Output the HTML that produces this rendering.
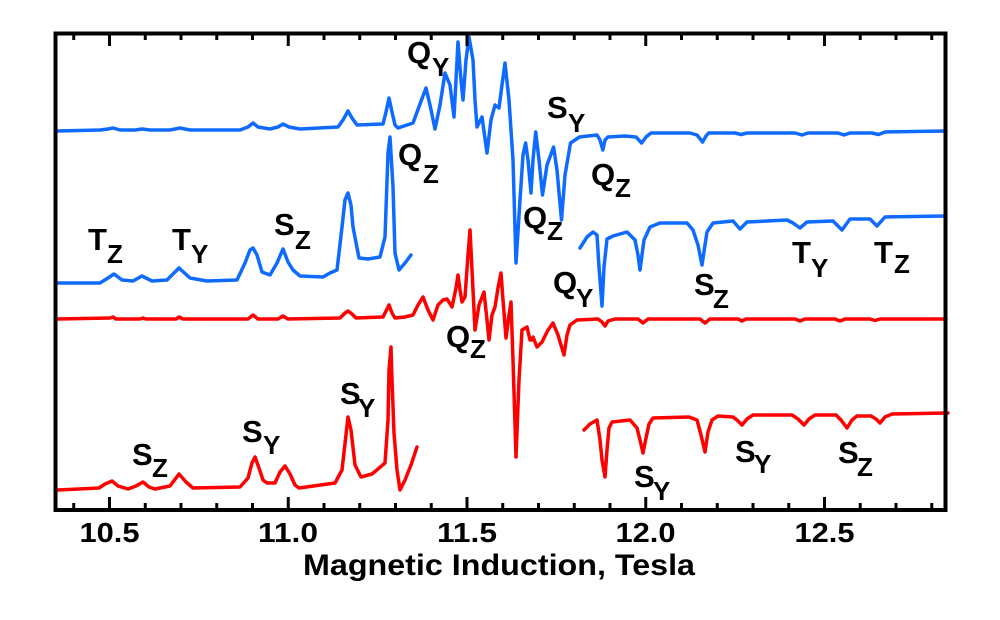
<!DOCTYPE html>
<html><head><meta charset="utf-8"><style>
html,body{margin:0;padding:0;background:#fff;}
svg{display:block;}
text{font-family:"Liberation Sans",Arial,sans-serif;font-weight:bold;fill:#000;}
.b{fill:none;stroke:#0f6bff;stroke-width:3.5;stroke-linejoin:round;stroke-linecap:round;}
.r{fill:none;stroke:#ff0000;stroke-width:3.5;stroke-linejoin:round;stroke-linecap:round;}
.l{font-size:31px;}
.s{font-size:26px;}
</style></head><body>
<svg width="1000" height="620" viewBox="0 0 1000 620" xmlns="http://www.w3.org/2000/svg">
<rect x="0" y="0" width="1000" height="620" fill="#fff"/>

<polyline class="b" points="57,131 100,130 108,129 113,128 120,130 135,130 142,129 150,130 170,130 180,128 190,130 240,130 248,127 253,123 258,127 270,129 278,127 283,124 289,127 300,129 338,127 343,120 348,111 352,118 357,125 383,124 386,112 389,98 392,112 395,125 398,128 413,123 420,104 426,88 430,105 435,129 440,105 445,73 450,85 454,117 456,80 458,42 461,80 463,100 466,60 469,37 473,60 475,100 477,127 482,117 487,153 491,120 495,105 499,108 502,85 505,63 509,100 513,160 516,263 520,200 523,155 525.6,143 528,160 531,193 533,160 535.7,132 539,160 542.5,195 547,165 553.6,147 557,170 561.5,220 565,175 570.5,143 579.5,137 597,135 600,140 602.8,150 605,140 608,137 625,136 636,137 641.6,143 646,137 651,133 690,133 697,135 702.6,142 706,136 708.7,133 735,133 741,134.5 747,133 795,133 802,135 808,133 838,133 844,135 850,133 872,133 878.5,134.5 885,132 946,131"/>

<polyline class="b" points="57,283 100,283 108,278 114,274 122,280 133,281 142,276 152,281 167,280 179,268 190,278 207,281 237,280 245,263 250,250 253,248 257,255 262,272 270,275 277,263 283,249 288,262 293,270 300,276 323,277 330,273 337,270 342,227 345,200 348,193 351,205 353,227 359,258 368,259 380,257 385,237 388,153 390,137 393,187 395,253 399,270 405,263 411,255"/>

<polyline class="b" points="580,248 587,237 593,232 597,235 599,267 602,306 604,267 607,239 613,236 627,232 635,240 638,255 640,270 642,255 644,240 650,227 660,223 687,223 693,230 698,245 702,265 705,245 707,232 713,223 733,221 740,229 747,222 787,220 793,223 800,228 807,222 833,221 842,230 850,219 870,219 877,226 885,217 946,216"/>

<polyline class="r" points="57,319 110,318 113,317 116,319 140,319 143,318 146,319 176,319 179,317 183,319 248,319 253,315 258,319 278,319 283,316 288,319 340,318 345,313 348,311 352,314 356,318 383,317 386,311 389,305 392,313 395,318 405,317 413,315 418,305 423,297 428,310 433,320 438,305 443,300 447,299 452,307 456,288 458,275 460,290 462,302 465,297 468,255 470,230 472,270 475,330 479,305 484,292 487,320 489,340 492,315 495,307 498,288 501,273 503,300 506,338 509,315 511,302 513,360 516,457 519,380 522,330 527,327 530,340 532,340 533,337 537,347 542,342 548,330 553,323 558,335 564,355 567,335 570,325 577,320 598,319 602,322 605,326 608,321 615,319 638,319 643,323 648,319 700,319 705,323 710,319 738,319 742,321 746,319 795,319 800,321 805,319 835,319 840,321 845,319 870,319 875,320.5 880,319 946,319"/>

<polyline class="r" points="58,490 99,488 105,484 112,481 118,486 128,489 136,486 143,482 149,487 155,489 170,486 179,474 186,482 193,488 240,487 248,478 252,463 255,457 259,468 263,480 267,483 275,483 280,472 285,466 290,474 295,485 299,488 335,483 342,470 346,435 348,417 351,430 355,465 361,477 372,474 385,463 388,420 389,370 391,347 392,380 394,433 397,470 400,490 405,480 411,465 417,447"/>

<polyline class="r" points="584,430 590,424 597,420 600,440 602,460 605,477 607,450 609,428 612,422 630,420 637,428 640,440 643,453 646,438 649,424 653,418 689,417 697,420 701,435 705,452 708,432 712,420 718,416 733,417 737,420 742,425 747,419 753,415 792,415 798,419 804,425 809,419 815,415 836,415 841,420 847,428 852,420 857,416 871,416 876,419 880,423 885,417 892,414 948,413"/>

<rect x="55.5" y="33.5" width="890" height="476.5" fill="none" stroke="#000" stroke-width="4"/>
<g stroke="#000" stroke-width="3">
<line x1="73.75" y1="33" x2="73.75" y2="40"/><line x1="73.75" y1="510" x2="73.75" y2="503"/>
<line x1="109.5" y1="33" x2="109.5" y2="46"/><line x1="109.5" y1="510" x2="109.5" y2="497"/>
<line x1="145.25" y1="33" x2="145.25" y2="40"/><line x1="145.25" y1="510" x2="145.25" y2="503"/>
<line x1="181" y1="33" x2="181" y2="40"/><line x1="181" y1="510" x2="181" y2="503"/>
<line x1="216.75" y1="33" x2="216.75" y2="40"/><line x1="216.75" y1="510" x2="216.75" y2="503"/>
<line x1="252.5" y1="33" x2="252.5" y2="40"/><line x1="252.5" y1="510" x2="252.5" y2="503"/>
<line x1="288.25" y1="33" x2="288.25" y2="46"/><line x1="288.25" y1="510" x2="288.25" y2="497"/>
<line x1="324" y1="33" x2="324" y2="40"/><line x1="324" y1="510" x2="324" y2="503"/>
<line x1="359.75" y1="33" x2="359.75" y2="40"/><line x1="359.75" y1="510" x2="359.75" y2="503"/>
<line x1="395.5" y1="33" x2="395.5" y2="40"/><line x1="395.5" y1="510" x2="395.5" y2="503"/>
<line x1="431.25" y1="33" x2="431.25" y2="40"/><line x1="431.25" y1="510" x2="431.25" y2="503"/>
<line x1="467" y1="33" x2="467" y2="46"/><line x1="467" y1="510" x2="467" y2="497"/>
<line x1="502.75" y1="33" x2="502.75" y2="40"/><line x1="502.75" y1="510" x2="502.75" y2="503"/>
<line x1="538.5" y1="33" x2="538.5" y2="40"/><line x1="538.5" y1="510" x2="538.5" y2="503"/>
<line x1="574.25" y1="33" x2="574.25" y2="40"/><line x1="574.25" y1="510" x2="574.25" y2="503"/>
<line x1="610" y1="33" x2="610" y2="40"/><line x1="610" y1="510" x2="610" y2="503"/>
<line x1="645.75" y1="33" x2="645.75" y2="46"/><line x1="645.75" y1="510" x2="645.75" y2="497"/>
<line x1="681.5" y1="33" x2="681.5" y2="40"/><line x1="681.5" y1="510" x2="681.5" y2="503"/>
<line x1="717.25" y1="33" x2="717.25" y2="40"/><line x1="717.25" y1="510" x2="717.25" y2="503"/>
<line x1="753" y1="33" x2="753" y2="40"/><line x1="753" y1="510" x2="753" y2="503"/>
<line x1="788.75" y1="33" x2="788.75" y2="40"/><line x1="788.75" y1="510" x2="788.75" y2="503"/>
<line x1="824.5" y1="33" x2="824.5" y2="46"/><line x1="824.5" y1="510" x2="824.5" y2="497"/>
<line x1="860.25" y1="33" x2="860.25" y2="40"/><line x1="860.25" y1="510" x2="860.25" y2="503"/>
<line x1="896" y1="33" x2="896" y2="40"/><line x1="896" y1="510" x2="896" y2="503"/>
<line x1="931.75" y1="33" x2="931.75" y2="40"/><line x1="931.75" y1="510" x2="931.75" y2="503"/>
</g>

<g font-size="28" text-anchor="middle">
<text x="109.5" y="542" textLength="60" lengthAdjust="spacingAndGlyphs">10.5</text>
<text x="288" y="542" textLength="60" lengthAdjust="spacingAndGlyphs">11.0</text>
<text x="467" y="542" textLength="60" lengthAdjust="spacingAndGlyphs">11.5</text>
<text x="645.5" y="542" textLength="60" lengthAdjust="spacingAndGlyphs">12.0</text>
<text x="824.5" y="542" textLength="60" lengthAdjust="spacingAndGlyphs">12.5</text>
</g>
<text x="303" y="575" font-size="30" textLength="392" lengthAdjust="spacingAndGlyphs">Magnetic Induction, Tesla</text>

<text class="l" x="407" y="63">Q</text><text class="s" x="432" y="76">Y</text>
<text class="l" x="398" y="165">Q</text><text class="s" x="423" y="183">Z</text>
<text class="l" x="88" y="250">T</text><text class="s" x="107" y="263">Z</text>
<text class="l" x="172" y="250">T</text><text class="s" x="191" y="263">Y</text>
<text class="l" x="274" y="235">S</text><text class="s" x="295" y="249">Z</text>
<text class="l" x="547" y="118">S</text><text class="s" x="568" y="132">Y</text>
<text class="l" x="591" y="185">Q</text><text class="s" x="615" y="197">Z</text>
<text class="l" x="523" y="228">Q</text><text class="s" x="547" y="240">Z</text>
<text class="l" x="553" y="293">Q</text><text class="s" x="576" y="307">Y</text>
<text class="l" x="694" y="295">S</text><text class="s" x="713" y="308">Z</text>
<text class="l" x="792" y="263">T</text><text class="s" x="811" y="277">Y</text>
<text class="l" x="874" y="263">T</text><text class="s" x="894" y="273">Z</text>
<text class="l" x="446" y="347">Q</text><text class="s" x="470" y="358">Z</text>
<text class="l" x="132" y="465">S</text><text class="s" x="152" y="477">Z</text>
<text class="l" x="242" y="442">S</text><text class="s" x="263" y="454">Y</text>
<text class="l" x="340" y="404">S</text><text class="s" x="358" y="417">Y</text>
<text class="l" x="634" y="487">S</text><text class="s" x="653" y="500">Y</text>
<text class="l" x="735" y="462">S</text><text class="s" x="754" y="473">Y</text>
<text class="l" x="838" y="463">S</text><text class="s" x="857" y="476">Z</text>
</svg>
</body></html>
